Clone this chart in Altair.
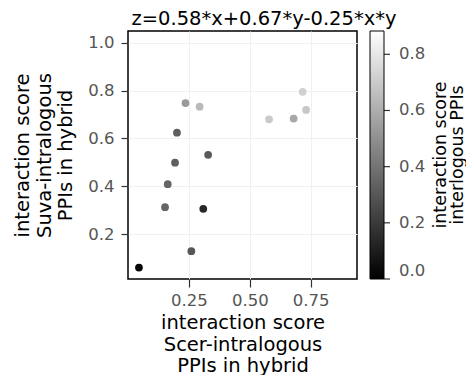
import altair as alt
import pandas as pd

scer = [0.045, 0.260, 0.309, 0.152, 0.163, 0.193, 0.329, 0.201, 0.236, 0.294, 0.579, 0.680, 0.717, 0.731]
suva = [0.061, 0.129, 0.306, 0.313, 0.409, 0.499, 0.532, 0.624, 0.748, 0.733, 0.680, 0.683, 0.795, 0.719]
inter = [0.02, 0.30, 0.14, 0.35, 0.35, 0.33, 0.31, 0.33, 0.53, 0.64, 0.70, 0.58, 0.72, 0.69]

x_ticks = [0.25, 0.50, 0.75]
y_ticks = [0.2, 0.4, 0.6, 0.8, 1.0]
c_ticks = [0.0, 0.2, 0.4, 0.6, 0.8]
legend_title = ["interaction score", "interlogous PPIs"]
chart_title = "z=0.58*x+0.67*y-0.25*x*y"

df = pd.DataFrame({"scer": scer, "suva": suva, "inter": inter})
one = pd.DataFrame({"k": [0]})
cbt = pd.DataFrame({"v": c_ticks})

FONT = "DejaVu Sans"
CMAX = 0.883

points = alt.Chart(df).mark_circle(size=60, opacity=1).encode(
    x=alt.X("scer:Q",
            scale=alt.Scale(domain=[0.0, 0.94], nice=False, zero=False),
            axis=alt.Axis(values=x_ticks, format=".2f",
                          title=["interaction score", "Scer-intralogous", "PPIs in hybrid"],
                          titlePadding=5, labelPadding=5, tickSize=8)),
    y=alt.Y("suva:Q",
            scale=alt.Scale(domain=[0.013, 1.049], nice=False, zero=False),
            axis=alt.Axis(values=y_ticks, format=".1f",
                          title=["interaction score", "Suva-intralogous", "PPIs in hybrid"],
                          titlePadding=12, labelPadding=7, tickSize=7)),
    color=alt.Color("inter:Q",
                    scale=alt.Scale(domain=[0.0, CMAX], range=["#000000", "#ffffff"],
                                    interpolate="rgb", nice=False, zero=False),
                    legend=alt.Legend(
                        values=c_ticks, format=".1f",
                        title=None,
                        orient="none", legendX=242, legendY=0,
                        direction="vertical",
                        gradientLength=248, gradientThickness=14,
                        gradientStrokeColor="black", gradientStrokeWidth=1,
                        labelOffset=15, labelBaseline="middle")),
)

cticks = alt.Chart(cbt).mark_rule(color="#333333", strokeWidth=1.2).encode(
    y=alt.Y("v:Q", scale=alt.Scale(domain=[0.0, CMAX], nice=False, zero=False), axis=None),
    x=alt.value(256), x2=alt.value(262),
)

ltitle = alt.Chart(one).mark_text(
    angle=270, align="center", baseline="middle", font=FONT, fontSize=17.5,
    lineHeight=16.5, color="black"
).encode(
    x=alt.value(313), y=alt.value(124), text=alt.value(legend_title)
)

ctitle = alt.Chart(one).mark_text(
    align="center", baseline="alphabetic", font=FONT, fontSize=19.5, color="black"
).encode(
    x=alt.value(136), y=alt.value(-6), text=alt.value(chart_title)
)

chart = alt.layer(points, cticks, ltitle, ctitle).resolve_scale(
    y="independent"
).properties(
    width=229,
    height=248,
    autosize=alt.AutoSizeParams(type="none"),
    padding={"left": 120, "top": 23, "right": 109, "bottom": 96},
).configure_view(
    stroke="black", strokeWidth=1.5
).configure_axis(
    labelFont=FONT, titleFont=FONT, labelFontSize=16.5, titleFontSize=19.5,
    labelColor="#555555", titleColor="black", titleFontWeight="normal",
    tickColor="#333333", tickWidth=1.2, domain=False,
    gridColor="#f0f0f0", titleLineHeight=21.5,
).configure_legend(
    labelFont=FONT, labelFontSize=16.5, labelColor="#555555",
)

chart.save("out.html", embed_options={"renderer": "svg", "actions": False})
